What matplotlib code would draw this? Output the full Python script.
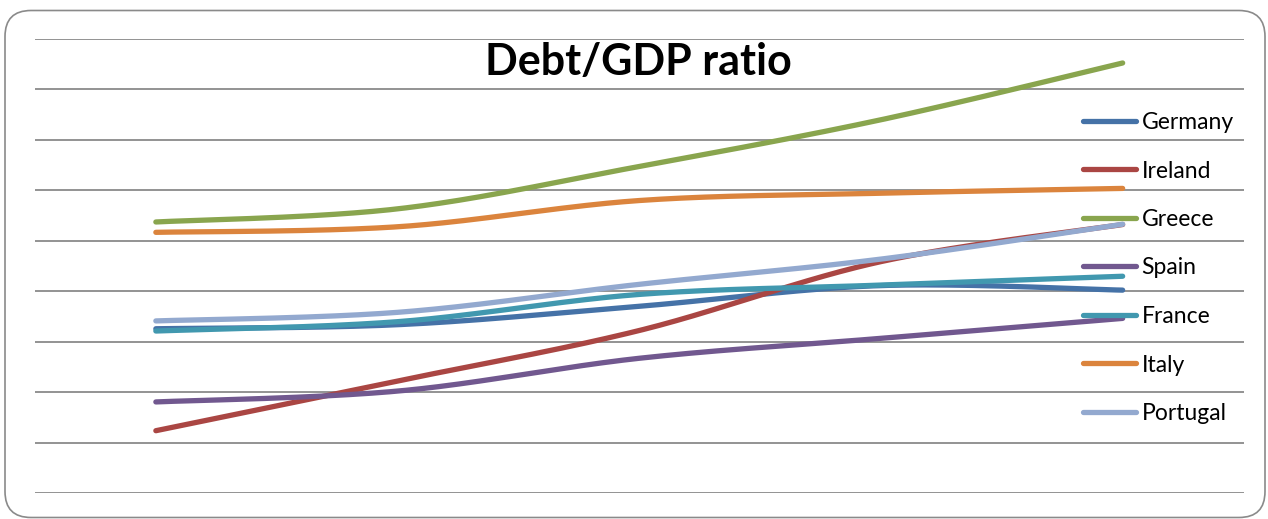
import numpy as np
import matplotlib.pyplot as plt
from matplotlib.patches import FancyBboxPatch

years = ["2007", "2008", "2009", "2010", "2011"]

germany = [65.2, 66.8, 74.1, 82.3, 80.5]
ireland = [24.8, 44.5, 64.5, 91.8, 106.5]
greece = [107.5, 112.7, 129.5, 148.0, 170.5]
spain = [36.2, 40.5, 53.5, 61.4, 69.3]
france = [64.3, 68.0, 78.8, 82.5, 86.0]
italy = [103.4, 105.6, 116.0, 118.9, 120.8]
portugal = [68.3, 71.7, 82.8, 92.8, 106.6]

countries = ["Germany", "Ireland", "Greece", "Spain", "France", "Italy", "Portugal"]
series = [germany, ireland, greece, spain, france, italy, portugal]
colors = ["#4572A7", "#AA4643", "#89A54E", "#71588F", "#4198AF", "#DB843D", "#93A9CF"]


def smooth(x, y, n=60):
    # bezier segments with catmull-rom style tangents (spreadsheet "smoothed line")
    x = np.asarray(x, float)
    y = np.asarray(y, float)
    px = np.concatenate([[x[0]], x, [x[-1]]])
    py = np.concatenate([[y[0]], y, [y[-1]]])
    t = np.linspace(0, 1, n)[:, None]
    xs, ys = [], []
    for i in range(len(x) - 1):
        p0 = np.array([px[i + 1], py[i + 1]])
        p3 = np.array([px[i + 2], py[i + 2]])
        p1 = p0 + (p3 - np.array([px[i], py[i]])) / 6
        p2 = p3 - (np.array([px[i + 3], py[i + 3]]) - p0) / 6
        b = ((1 - t) ** 3) * p0 + 3 * ((1 - t) ** 2) * t * p1 + 3 * (1 - t) * t ** 2 * p2 + t ** 3 * p3
        xs.append(b[:, 0])
        ys.append(b[:, 1])
    return np.concatenate(xs), np.concatenate(ys)


plt.rcParams["font.family"] = ["Lato", "DejaVu Sans"]

W, H = 1268, 519
fig = plt.figure(figsize=(W / 100, H / 100), dpi=100)

# rounded frame around the chart
frame = FancyBboxPatch((5 / 100, 1.5 / 100), 1260 / 100, 507 / 100,
                       boxstyle="round,pad=0,rounding_size=0.26",
                       transform=fig.dpi_scale_trans, facecolor="none",
                       edgecolor="#8a8a8a", linewidth=1.2, zorder=-1)
fig.patches.append(frame)

ax = fig.add_axes([35 / W, (H - 493.3) / H, 1208.5 / W, 454.3 / H])
ax.set_facecolor("none")

x = np.arange(len(years))
for name, vals, c in zip(countries, series, colors):
    sx, sy = smooth(x, vals)
    ax.plot(sx, sy, color=c, lw=3.8, solid_capstyle="round", label=name, zorder=3)

ax.set_xlim(-0.5, len(years) - 0.5)
ax.set_ylim(0, 180)
ax.set_yticks(np.arange(0, 181, 20))
ax.set_xticks([])
ax.yaxis.grid(True, color="#8a8a8a", lw=1.3)
ax.set_axisbelow(True)
ax.tick_params(left=False, labelleft=False)
for s in ax.spines.values():
    s.set_visible(False)

fig.text(638 / W, 1 - 75 / H, "Debt/GDP ratio", ha="center", va="baseline",
         fontsize=31, fontweight="bold")

ax.legend(loc="upper left", bbox_to_anchor=(1083 / W, 1 - 112 / H),
          bbox_transform=fig.transFigure, frameon=False, fontsize=16.5,
          handlelength=2.3, handletextpad=0.25, labelspacing=1.2,
          borderpad=0, borderaxespad=0)

fig.savefig("out.png", dpi=100)
